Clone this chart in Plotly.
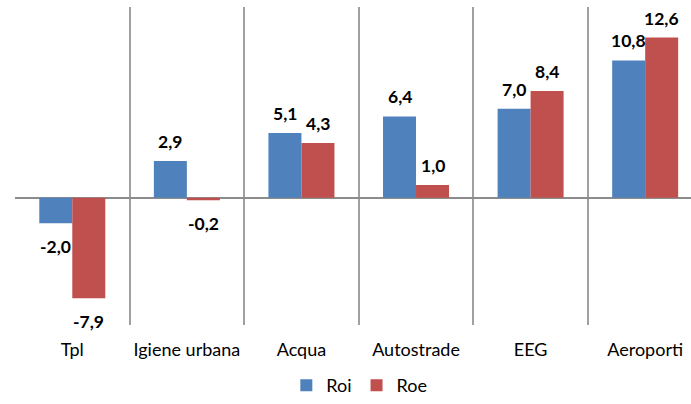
import plotly.graph_objects as go

categories = ["Tpl", "Igiene urbana", "Acqua", "Autostrade", "EEG", "Aeroporti"]
roi = [-2.0, 2.9, 5.1, 6.4, 7.0, 10.8]
roe = [-7.9, -0.2, 4.3, 1.0, 8.4, 12.6]
series = [("Roi", roi, "#4F81BD"), ("Roe", roe, "#C0504D")]

FONT = "Lato"
fig = go.Figure()
for name, vals, color in series:
    fig.add_trace(go.Bar(x=categories, y=vals, name=name, marker_color=color,
                         marker_line_width=0))

def fmt(v):
    return f"{v:.1f}".replace(".", ",")

annotations = []
for i, (name, vals, color) in enumerate(series):
    shift = -16.5 if i == 0 else 16.5
    for c, v in zip(categories, vals):
        annotations.append(dict(
            x=c, y=v, xref="x", yref="y", text=fmt(v), showarrow=False,
            xshift=shift, yanchor="bottom" if v >= 0 else "top",
            yshift=7 if v >= 0 else -11,
            font=dict(family=FONT, size=17.5, color="black", weight="bold")))

fig.update_layout(
    width=691, height=404,
    margin=dict(l=15, r=0, t=7, b=79, autoexpand=False),
    paper_bgcolor="white", plot_bgcolor="white",
    barmode="group", bargap=0.424, bargroupgap=0,
    font=dict(family=FONT, size=18, color="black"),
    annotations=annotations,
    legend=dict(orientation="h", xref="container", x=0.520, xanchor="center",
                yref="container", y=0.0, yanchor="bottom",
                font=dict(family=FONT, size=18, color="black"),
                itemwidth=30, tracegroupgap=0),
    xaxis=dict(range=[-0.5, 5.4], showgrid=True, tickson="boundaries",
               gridcolor="#A0A0A0", gridwidth=1.5, showline=False,
               ticks="", tickangle=0, ticklabelstandoff=12, fixedrange=True,
               automargin=False),
    yaxis=dict(range=[-10, 15], showgrid=False, showticklabels=False,
               zeroline=True, zerolinecolor="#8C8C8C", zerolinewidth=2,
               ticks="", fixedrange=True, automargin=False),
)

fig.write_html("out.html", config={"displayModeBar": False},
               post_script="document.body.style.margin='0';document.body.style.overflow='hidden';")
